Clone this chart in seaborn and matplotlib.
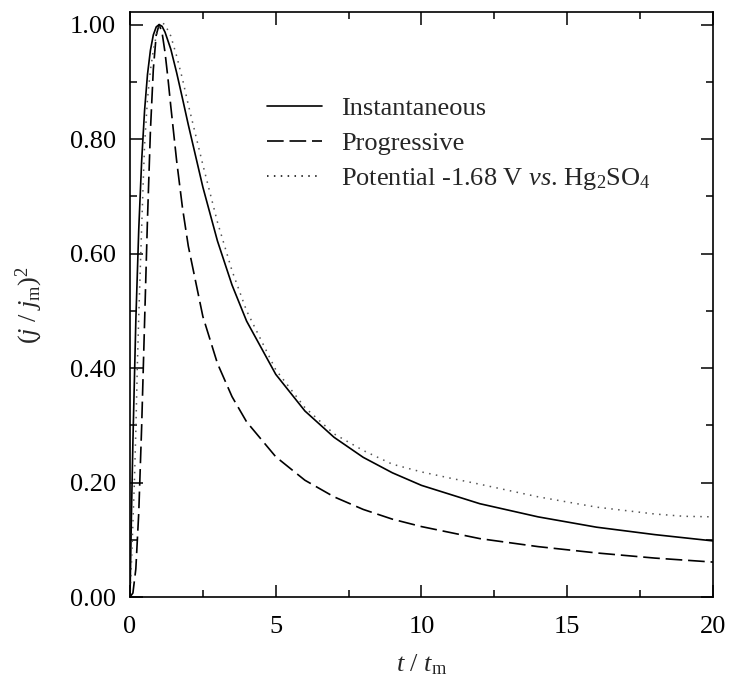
import matplotlib
matplotlib.use("Agg")
import matplotlib.pyplot as plt
import seaborn as sns
import pandas as pd
from matplotlib.ticker import MultipleLocator, FormatStrFormatter

# ---- data ----
t_inst = [0.0, 0.05, 0.1, 0.2, 0.3, 0.4, 0.5, 0.6, 0.7, 0.8, 0.9, 1.0, 1.1, 1.2, 1.4, 1.6,
          1.8, 2.0, 2.5, 3.0, 3.5, 4.0, 5.0, 6.0, 7.0, 8.0, 9.0, 10.0, 12.0, 14.0, 16.0, 18.0, 20.0]
j_inst = [0.0, 0.145, 0.272, 0.483, 0.642, 0.762, 0.850, 0.913, 0.955, 0.982, 0.996, 1.000,
          0.997, 0.987, 0.957, 0.916, 0.871, 0.825, 0.716, 0.622, 0.545, 0.482, 0.389, 0.325,
          0.279, 0.244, 0.217, 0.195, 0.163, 0.140, 0.122, 0.109, 0.098]

t_prog = [0.0, 0.1, 0.2, 0.3, 0.4, 0.5, 0.6, 0.7, 0.8, 0.9, 1.0, 1.1, 1.2, 1.3, 1.4, 1.6,
          1.8, 2.0, 2.5, 3.0, 3.5, 4.0, 5.0, 6.0, 7.0, 8.0, 9.0, 10.0, 12.0, 14.0, 16.0, 18.0, 20.0]
j_prog = [0.0, 0.007, 0.049, 0.147, 0.298, 0.480, 0.661, 0.814, 0.922, 0.982, 1.000, 0.986,
          0.952, 0.907, 0.857, 0.762, 0.680, 0.613, 0.490, 0.408, 0.350, 0.306, 0.245, 0.204,
          0.175, 0.153, 0.136, 0.123, 0.102, 0.088, 0.077, 0.068, 0.061]

t_exp = [0.0, 0.05, 0.1, 0.15, 0.2, 0.25, 0.3, 0.37, 0.45, 0.5, 0.6, 0.7, 0.8, 0.9, 1.0, 1.1,
         1.2, 1.4, 1.6, 1.8, 2.0, 2.5, 3.0, 3.5, 4.0, 5.0, 6.0, 7.0, 8.0, 9.0, 10.0, 11.0, 12.0,
         13.0, 14.0, 15.0, 16.0, 17.0, 18.0, 19.0, 20.0]
j_exp = [0.0, 0.06, 0.13, 0.20, 0.29, 0.40, 0.49, 0.60, 0.72, 0.79, 0.87, 0.92, 0.955, 0.98,
         0.995, 1.003, 1.0, 0.98, 0.945, 0.905, 0.86, 0.755, 0.655, 0.57, 0.50, 0.397, 0.331,
         0.285, 0.256, 0.232, 0.2185, 0.2075, 0.197, 0.186, 0.175, 0.166, 0.157, 0.151, 0.145,
         0.141, 0.140]

labels = ["Instantaneous", "Progressive", r"Potential -1.68 V $\mathit{vs}$. Hg$_2$SO$_4$"]

sns.set_theme(style="ticks")
plt.rcParams["font.family"] = ["Liberation Serif", "DejaVu Serif"]
plt.rcParams["mathtext.fontset"] = "custom"
plt.rcParams["mathtext.rm"] = "Liberation Serif"
plt.rcParams["mathtext.it"] = "Liberation Serif:italic"
plt.rcParams["mathtext.bf"] = "Liberation Serif:bold"

FS = 19

fig = plt.figure(figsize=(7.31, 6.93), dpi=100)
ax = fig.add_axes([130 / 731, 96 / 693, 583 / 731, 585 / 693])

df_i = pd.DataFrame({"t": t_inst, "j": j_inst})
df_p = pd.DataFrame({"t": t_prog, "j": j_prog})
df_e = pd.DataFrame({"t": t_exp, "j": j_exp})

sns.lineplot(data=df_i, x="t", y="j", ax=ax, color="black", lw=1.2, label=labels[0],
             sort=False, estimator=None)
sns.lineplot(data=df_p, x="t", y="j", ax=ax, color="black", lw=1.2, label=labels[1],
             sort=False, estimator=None)
sns.lineplot(data=df_e, x="t", y="j", ax=ax, color="#555555", lw=1.1, label=labels[2],
             sort=False, estimator=None)
lines = ax.get_lines()
lines[1].set_linestyle((0, (10, 3.5)))
lines[2].set_linestyle((0, (1, 3.5)))

ax.set_xlim(0, 20)
ax.set_ylim(0, 1.022)
ax.xaxis.set_major_locator(MultipleLocator(5))
ax.xaxis.set_minor_locator(MultipleLocator(2.5))
ax.yaxis.set_major_locator(MultipleLocator(0.2))
ax.yaxis.set_minor_locator(MultipleLocator(0.1))
ax.yaxis.set_major_formatter(FormatStrFormatter("%.2f"))

for s in ax.spines.values():
    s.set_linewidth(1.2)
    s.set_color("black")
ax.tick_params(which="both", direction="in", top=True, right=True, colors="black",
               width=1.1, labelsize=FS, labelcolor="black")
ax.tick_params(which="major", length=9)
ax.tick_params(which="minor", length=5)
ax.tick_params(axis="x", which="major", pad=14)
ax.tick_params(axis="y", which="major", pad=10)

ax.set_xlabel(r"$t$ / $t_\mathrm{m}$", fontsize=FS, labelpad=10)
ax.set_ylabel(r"($j$ / $j_\mathrm{m}$)$^2$", fontsize=FS, labelpad=18)

leg = ax.legend(loc="upper left", bbox_to_anchor=(0.235, 0.855), frameon=False,
                fontsize=FS, handlelength=2.1, handletextpad=0.7, labelspacing=0.42,
                borderpad=0, borderaxespad=0)
for h in leg.get_lines():
    h.set_color("black")

fig.savefig("out.png", dpi=100)
